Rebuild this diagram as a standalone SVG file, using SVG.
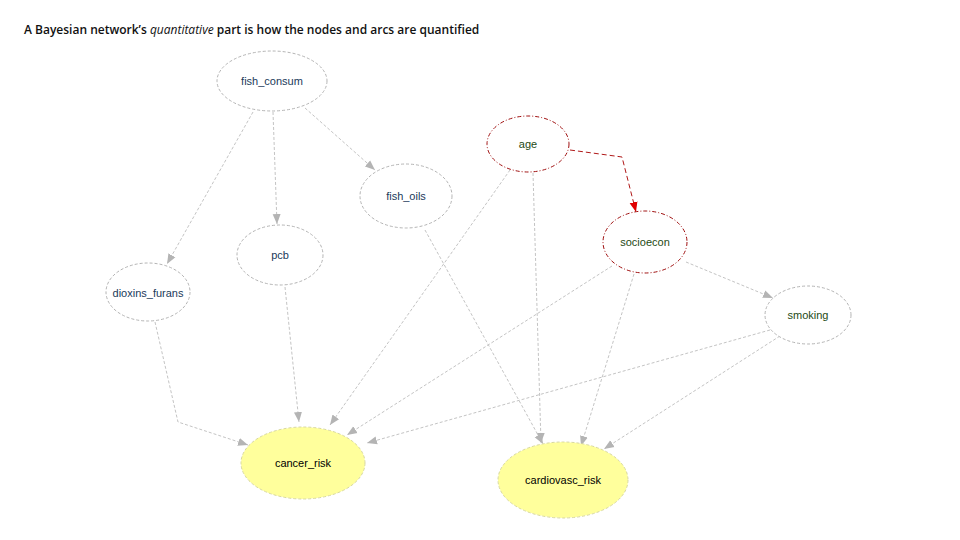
<svg xmlns="http://www.w3.org/2000/svg" width="960" height="540" viewBox="0 0 960 540">
<defs>
<style>
.n{fill:#fff;stroke:#b4b4b4;stroke-width:1;stroke-dasharray:3 2}
.r{fill:#fff;stroke:#a01010;stroke-width:1;stroke-dasharray:4 2 1 2}
.y{fill:#ffff9c;stroke:#d8d8a0;stroke-width:1;stroke-dasharray:3 2}
.e{fill:none;stroke:#c4c4c4;stroke-width:1;stroke-dasharray:3 2}
.er{fill:none;stroke:#b01818;stroke-width:1;stroke-dasharray:5 3}
text{font-family:"Liberation Sans",Arial,sans-serif;font-size:11px;text-anchor:middle}
.b{fill:#1a3a5a}
.g{fill:#1e4a14}
.k{fill:#000}
.t{font-family:"Open Sans","DejaVu Sans",sans-serif;font-size:12px;font-weight:600;text-anchor:start;fill:#111}
</style>
<marker id="a" viewBox="0 0 10 10" refX="10" refY="5" markerWidth="10" markerHeight="10" markerUnits="userSpaceOnUse" orient="auto"><path d="M0,1 L10,5 L0,9 z" fill="#b4b4b4"/></marker>
<marker id="ar" viewBox="0 0 10 10" refX="10" refY="5" markerWidth="10" markerHeight="10" markerUnits="userSpaceOnUse" orient="auto"><path d="M0,1 L10,5 L0,9 z" fill="#e00000"/></marker>
</defs>
<rect width="960" height="540" fill="#fff"/>
<text class="t" x="24" y="34">A Bayesian network’s <tspan font-style="italic" font-weight="400">quantitative</tspan> part is how the nodes and arcs are quantified</text>
<g id="edges">
<path class="e" d="M253,112 L167,264" marker-end="url(#a)"/>
<path class="e" d="M273,112 L277,224" marker-end="url(#a)"/>
<path class="e" d="M305,108 L375,170" marker-end="url(#a)"/>
<path class="er" d="M570,150 L622,157 L636,212" marker-end="url(#ar)"/>
<path class="e" d="M510,170 L330,425" marker-end="url(#a)"/>
<path class="e" d="M533,173 L541,443" marker-end="url(#a)"/>
<path class="e" d="M425,230 L543,444" marker-end="url(#a)"/>
<path class="e" d="M612,266 L347,435" marker-end="url(#a)"/>
<path class="e" d="M634,274 L581,446" marker-end="url(#a)"/>
<path class="e" d="M686,262 L773,298" marker-end="url(#a)"/>
<path class="e" d="M770,330 L367,443" marker-end="url(#a)"/>
<path class="e" d="M780,336 L604,449" marker-end="url(#a)"/>
<path class="e" d="M155,322 L178,422 L248,445" marker-end="url(#a)"/>
<path class="e" d="M285,287 L299,422" marker-end="url(#a)"/>
</g>
<g id="fish_consum"><ellipse class="n" cx="272" cy="81" rx="55" ry="30"/><text class="b" x="272" y="85">fish_consum</text></g>
<g id="age"><ellipse class="r" cx="528" cy="144" rx="41" ry="28"/><text class="g" x="528" y="148">age</text></g>
<g id="fish_oils"><ellipse class="n" cx="406" cy="196" rx="46" ry="32"/><text class="b" x="406" y="200">fish_oils</text></g>
<g id="socioecon"><ellipse class="r" cx="645" cy="242" rx="42" ry="31"/><text class="g" x="645" y="246">socioecon</text></g>
<g id="pcb"><ellipse class="n" cx="280" cy="255" rx="43" ry="30"/><text class="b" x="280" y="259">pcb</text></g>
<g id="dioxins_furans"><ellipse class="n" cx="148" cy="292" rx="42" ry="29"/><text class="b" x="148" y="297">dioxins_furans</text></g>
<g id="smoking"><ellipse class="n" cx="808" cy="315" rx="43" ry="29"/><text class="g" x="808" y="319">smoking</text></g>
<g id="cancer_risk"><ellipse class="y" cx="303" cy="463" rx="62" ry="36"/><text class="k" x="303" y="467">cancer_risk</text></g>
<g id="cardiovasc_risk"><ellipse class="y" cx="563" cy="480" rx="65" ry="38"/><text class="k" x="563" y="484">cardiovasc_risk</text></g>
</svg>
